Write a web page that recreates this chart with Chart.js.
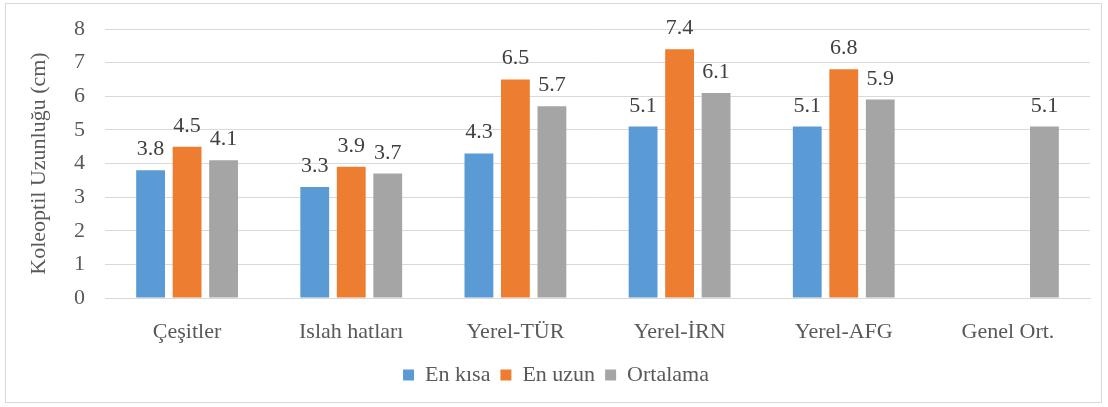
<!DOCTYPE html>
<html>
<head>
<meta charset="utf-8">
<script src="https://cdn.jsdelivr.net/npm/chart.js@4.4.1/dist/chart.umd.min.js"></script>
<style>
  html, body { margin: 0; padding: 0; background: #fff; }
  #kutu { position: absolute; left: 5px; top: 3px; width: 1097px; height: 400px; border: 1px solid #d9d9d9; box-sizing: border-box; }
  #grafik { position: absolute; left: 0; top: 0; }
</style>
</head>
<body>
<div id="kutu"></div>
<canvas id="grafik" width="1108" height="407"></canvas>
<script>
const kategoriler = ["Çeşitler", "Islah hatları", "Yerel-TÜR", "Yerel-İRN", "Yerel-AFG", "Genel Ort."];
const enKisa = [3.8, 3.3, 4.3, 5.1, 5.1, null];
const enUzun = [4.5, 3.9, 6.5, 7.4, 6.8, null];
const ortalama = [4.1, 3.7, 5.7, 6.1, 5.9, 5.1];
const yTikleri = [0, 1, 2, 3, 4, 5, 6, 7, 8];

const yaziTipi = "'Liberation Serif', 'Times New Roman', Times, serif";
const yaziRengi = "#595959";

// bar ustune deger yazan eklenti
const degerEtiketleri = {
  id: "degerEtiketleri",
  afterDatasetsDraw(chart) {
    const ctx = chart.ctx;
    ctx.save();
    ctx.font = "22px " + yaziTipi;
    ctx.fillStyle = "#404040";
    ctx.textAlign = "center";
    ctx.textBaseline = "alphabetic";
    chart.data.datasets.forEach((ds, i) => {
      const meta = chart.getDatasetMeta(i);
      meta.data.forEach((bar, j) => {
        const v = ds.data[j];
        if (v === null || v === undefined) return;
        ctx.fillText(v.toFixed(1), bar.x, bar.y - 15);
      });
    });
    ctx.restore();
  }
};

function ciz() {
  new Chart(document.getElementById("grafik").getContext("2d"), {
    type: "bar",
    data: {
      labels: kategoriler,
      datasets: [
        { label: "En kısa", data: enKisa, backgroundColor: "#5b9bd5" },
        { label: "En uzun", data: enUzun, backgroundColor: "#ed7d31" },
        { label: "Ortalama", data: ortalama, backgroundColor: "#a5a5a5" }
      ]
    },
    options: {
      responsive: false,
      animation: false,
      categoryPercentage: 0.667,
      barPercentage: 0.79,
      layout: { padding: { left: 22, right: 18, top: 29, bottom: 11 } },
      plugins: {
        legend: {
          position: "bottom",
          labels: {
            color: yaziRengi,
            font: { family: yaziTipi, size: 22 },
            boxWidth: 11,
            boxHeight: 11,
            padding: 10
          }
        },
        tooltip: { enabled: false }
      },
      scales: {
        x: {
          afterFit: ax => { ax.height = 56; },
          grid: { display: false },
          border: { color: "#d9d9d9" },
          ticks: { color: yaziRengi, font: { family: yaziTipi, size: 22 }, padding: 13 }
        },
        y: {
          min: 0,
          max: 8,
          afterFit: ax => { ax.width = 83; ax.paddingTop = 13; ax.paddingBottom = 13; },
          afterBuildTicks: ax => { ax.ticks = yTikleri.map(v => ({ value: v })); },
          grid: { color: "#d9d9d9", drawTicks: false },
          border: { display: false },
          ticks: { color: yaziRengi, font: { family: yaziTipi, size: 22 }, padding: 20 },
          title: {
            display: true,
            text: "Koleoptil Uzunluğu (cm)",
            color: yaziRengi,
            font: { family: yaziTipi, size: 22 },
            padding: { top: 4, bottom: 0 }
          }
        }
      }
    },
    plugins: [degerEtiketleri]
  });
}

document.fonts.load("22px 'Liberation Serif'").then(ciz, ciz);
</script>
</body>
</html>
